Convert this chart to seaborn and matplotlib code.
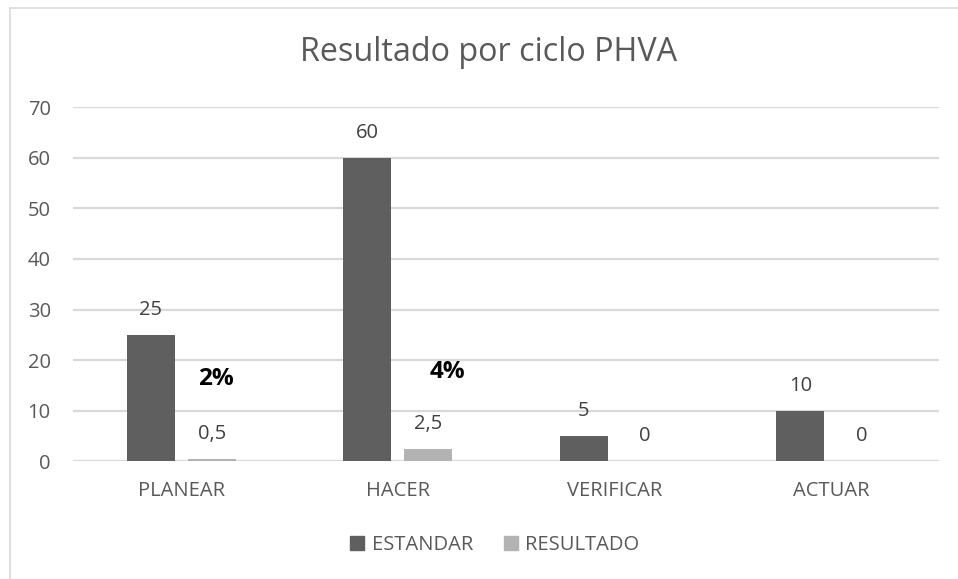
import matplotlib
matplotlib.use("Agg")
import matplotlib.pyplot as plt
from matplotlib.lines import Line2D
import seaborn as sns
import pandas as pd

categorias = ["PLANEAR", "HACER", "VERIFICAR", "ACTUAR"]
estandar = [25, 60, 5, 10]
resultado = [0.5, 2.5, 0, 0]
series = ["ESTANDAR", "RESULTADO"]
porcentajes = ["2%", "4%"]
pct_pos = [(0.16, 16.3), (1.23, 17.7)]
yticks = [0, 10, 20, 30, 40, 50, 60, 70]

colores = {"ESTANDAR": "#5f5f5f", "RESULTADO": "#b3b3b3"}
TXT = "#595959"

df = pd.DataFrame({
    "cat": categorias * 2,
    "serie": [series[0]] * 4 + [series[1]] * 4,
    "valor": estandar + resultado,
})

sns.set_theme(style="white")
plt.rcParams["font.family"] = ["Open Sans", "DejaVu Sans"]

fig = plt.figure(figsize=(9.58, 5.79), dpi=100)
ax = fig.add_axes([0.0762, 0.203, 0.904, 0.612])

sns.barplot(data=df, x="cat", y="valor", hue="serie", hue_order=series,
            order=categorias, palette=colores, width=0.5635, gap=0.21,
            saturation=1, ax=ax, legend=False, errorbar=None, linewidth=0)

ax.set_ylim(0, 70)
ax.set_xlim(-0.5, 3.5)
ax.set_yticks(yticks)
ax.yaxis.grid(True, color="#d9d9d9", linewidth=1.6)
ax.set_axisbelow(True)
for s in ax.spines.values():
    s.set_visible(False)
ax.set_xlabel("")
ax.set_ylabel("")
ax.tick_params(axis="y", length=0, pad=16, labelsize=14.5, labelcolor=TXT)
ax.tick_params(axis="x", length=0, pad=14, labelsize=14.5, labelcolor=TXT)

def fmt(v):
    s = f"{v:g}"
    return s.replace(".", ",")

for cont in ax.containers:
    for p in cont.patches:
        h = p.get_height()
        ax.annotate(fmt(h), (p.get_x() + p.get_width() / 2, h),
                    xytext=(0, 18), textcoords="offset points",
                    ha="center", va="center", fontsize=14.5, color="#404040")

for txt, (x, y) in zip(porcentajes, pct_pos):
    ax.text(x, y, txt, ha="center", va="center", fontsize=17.5,
            fontweight="bold", color="black")

fig.text(0.510, 0.910, "Resultado por ciclo PHVA", ha="center", va="center",
         fontsize=23.3, color=TXT)

handles = [Line2D([], [], marker="s", linestyle="", markersize=9.5,
                  markerfacecolor=colores[s], markeredgecolor=colores[s])
           for s in series]
fig.legend(handles, series, loc="center", bbox_to_anchor=(0.515, 0.059),
           ncol=2, frameon=False, fontsize=14.5, labelcolor=TXT,
           handletextpad=0.2, columnspacing=1.4, handlelength=1.0)

# chart border (left and top visible)
fig.add_artist(Line2D([9.5 / 958, 9.5 / 958], [1 - 8 / 579, 0], transform=fig.transFigure,
                      color="#d9d9d9", linewidth=1.2))
fig.add_artist(Line2D([9.5 / 958, 1], [1 - 8 / 579, 1 - 8 / 579], transform=fig.transFigure,
                      color="#d9d9d9", linewidth=1.2))

fig.savefig("out.png", dpi=100, facecolor="white")
